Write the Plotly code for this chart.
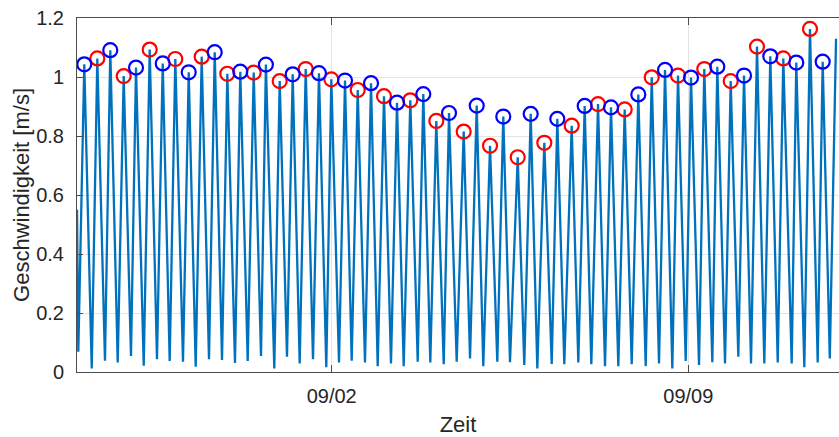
import plotly.graph_objects as go

# ---------------- data ----------------
start_time = "2019-08-28 00:00"
start_speed = 0.55

peak_times = [
    "2019-08-28 03:26", "2019-08-28 09:34", "2019-08-28 15:41", "2019-08-28 22:00",
    "2019-08-29 03:48", "2019-08-29 10:15", "2019-08-29 16:23", "2019-08-29 22:19",
    "2019-08-30 04:38", "2019-08-30 10:45", "2019-08-30 16:53", "2019-08-30 22:49",
    "2019-08-31 04:56", "2019-08-31 11:15", "2019-08-31 17:00", "2019-08-31 23:30",
    "2019-09-01 05:37", "2019-09-01 11:45", "2019-09-01 18:00", "2019-09-01 23:49",
    "2019-09-02 06:16", "2019-09-02 12:15", "2019-09-02 18:31", "2019-09-03 00:38",
    "2019-09-03 06:46", "2019-09-03 13:02", "2019-09-03 19:09", "2019-09-04 01:17",
    "2019-09-04 07:16", "2019-09-04 14:11", "2019-09-04 20:19", "2019-09-05 02:35",
    "2019-09-05 08:50", "2019-09-05 15:38", "2019-09-05 21:45", "2019-09-06 04:10",
    "2019-09-06 10:17", "2019-09-06 17:04", "2019-09-06 23:11", "2019-09-07 05:28",
    "2019-09-07 11:35", "2019-09-07 18:02", "2019-09-08 00:27", "2019-09-08 06:46",
    "2019-09-08 13:02", "2019-09-08 19:09", "2019-09-09 01:17", "2019-09-09 07:32",
    "2019-09-09 13:40", "2019-09-09 19:59", "2019-09-10 02:15", "2019-09-10 08:22",
    "2019-09-10 14:38", "2019-09-10 20:46", "2019-09-11 02:53", "2019-09-11 09:20",
    "2019-09-11 15:19", "2019-09-11 21:36",
]
peak_speed = [
    1.043, 1.063, 1.091, 1.003, 1.032, 1.093, 1.046, 1.061, 1.016, 1.069,
    1.084, 1.011, 1.018, 1.015, 1.042, 0.986, 1.009, 1.027, 1.013, 0.992,
    0.988, 0.956, 0.979, 0.935, 0.913, 0.921, 0.942, 0.851, 0.878, 0.815,
    0.903, 0.767, 0.866, 0.728, 0.875, 0.777, 0.858, 0.835, 0.902, 0.908,
    0.897, 0.890, 0.941, 0.999, 1.024, 1.005, 0.998, 1.027, 1.035, 0.986,
    1.005, 1.103, 1.070, 1.063, 1.049, 1.163, 1.052, 1.130,
]

trough_times = [
    "2019-08-28 00:37", "2019-08-28 06:56", "2019-08-28 13:11", "2019-08-28 19:11",
    "2019-08-29 01:26", "2019-08-29 07:26", "2019-08-29 13:41", "2019-08-29 19:40",
    "2019-08-30 01:56", "2019-08-30 07:55", "2019-08-30 14:11", "2019-08-30 20:19",
    "2019-08-31 02:26", "2019-08-31 08:25", "2019-08-31 14:41", "2019-08-31 20:57",
    "2019-09-01 02:56", "2019-09-01 08:55", "2019-09-01 15:11", "2019-09-01 21:27",
    "2019-09-02 03:26", "2019-09-02 09:25", "2019-09-02 15:41", "2019-09-02 21:40",
    "2019-09-03 03:56", "2019-09-03 09:55", "2019-09-03 16:31", "2019-09-03 22:27",
    "2019-09-04 04:46", "2019-09-04 10:53", "2019-09-04 17:10", "2019-09-04 23:25",
    "2019-09-05 06:01", "2019-09-05 12:00", "2019-09-05 18:44", "2019-09-06 00:52",
    "2019-09-06 07:39", "2019-09-06 13:35", "2019-09-06 20:11", "2019-09-07 02:19",
    "2019-09-07 08:46", "2019-09-07 15:02", "2019-09-07 21:20", "2019-09-08 03:56",
    "2019-09-08 10:12", "2019-09-08 16:28", "2019-09-08 22:47", "2019-09-09 05:03",
    "2019-09-09 11:19", "2019-09-09 17:18", "2019-09-09 23:34", "2019-09-10 05:33",
    "2019-09-10 11:49", "2019-09-10 18:08", "2019-09-11 00:43", "2019-09-11 06:40",
    "2019-09-11 12:58", "2019-09-11 18:40",
]
trough_speed = [
    0.069, 0.012, 0.038, 0.032, 0.054, 0.021, 0.043, 0.037, 0.035, 0.018,
    0.043, 0.041, 0.031, 0.037, 0.054, 0.012, 0.052, 0.029, 0.043, 0.016,
    0.032, 0.038, 0.032, 0.020, 0.029, 0.020, 0.035, 0.032, 0.026, 0.035,
    0.046, 0.020, 0.035, 0.033, 0.024, 0.012, 0.027, 0.026, 0.032, 0.026,
    0.020, 0.020, 0.026, 0.020, 0.029, 0.012, 0.037, 0.024, 0.033, 0.029,
    0.052, 0.029, 0.029, 0.032, 0.029, 0.016, 0.032, 0.046,
]

# number of detected (circled) peaks; the last spike is not circled
n_marked = 57

x_range = ["2019-08-28 00:00", "2019-09-11 23:00"]
x_tick0 = "2019-09-02"
y_ticks = [0, 0.2, 0.4, 0.6, 0.8, 1.0, 1.2]
x_title = "Zeit"
y_title = "Geschwindigkeit [m/s]"

# ---------------- build the series ----------------
line_t = [start_time]
line_v = [start_speed]
for tt, tv, pt, pv in zip(trough_times, trough_speed, peak_times, peak_speed):
    line_t += [tt, pt]
    line_v += [tv, pv]

blue_t = [peak_times[i] for i in range(n_marked) if i % 2 == 0]
blue_v = [peak_speed[i] for i in range(n_marked) if i % 2 == 0]
red_t = [peak_times[i] for i in range(n_marked) if i % 2 == 1]
red_v = [peak_speed[i] for i in range(n_marked) if i % 2 == 1]

fig = go.Figure()
fig.add_trace(go.Scatter(x=line_t, y=line_v, mode="lines",
                         line=dict(color="#0072BD", width=2.3), showlegend=False))
fig.add_trace(go.Scatter(x=red_t, y=red_v, mode="markers", showlegend=False,
                         marker=dict(symbol="circle-open", size=14,
                                     color="#FF0000", line=dict(width=2.2))))
fig.add_trace(go.Scatter(x=blue_t, y=blue_v, mode="markers", showlegend=False,
                         marker=dict(symbol="circle-open", size=14,
                                     color="#0000FF", line=dict(width=2.2))))

axis_col = "#4d4d4d"
txt_col = "#262626"
fig.update_layout(
    width=839, height=437,
    margin=dict(l=77, r=0, t=18, b=65, autoexpand=False),
    paper_bgcolor="white", plot_bgcolor="white",
    font=dict(family="Liberation Sans, Arial, sans-serif", color=txt_col, size=20),
    xaxis=dict(
        type="date", range=x_range, tick0=x_tick0, dtick=7 * 86400000,
        tickformat="%m/%d", ticks="inside", ticklen=7, tickcolor=axis_col,
        showline=True, linecolor=axis_col, linewidth=1, mirror="ticks",
        showgrid=True, gridcolor="#e3e3e3", gridwidth=1, automargin=False,
        tickfont=dict(size=20, color=txt_col), ticklabelstandoff=6,
        title=dict(text=x_title, font=dict(size=22, color=txt_col), standoff=11),
    ),
    yaxis=dict(
        range=[0, 1.2], tickvals=y_ticks, ticks="inside", ticklen=6,
        tickcolor=axis_col, showline=True, linecolor=axis_col, linewidth=1,
        mirror=False, zeroline=False, automargin=False,
        showgrid=True, gridcolor="#e3e3e3", gridwidth=1,
        tickfont=dict(size=20, color=txt_col), ticklabelstandoff=8,
        title=dict(text=y_title, font=dict(size=22, color=txt_col), standoff=0),
    ),
)

fig.write_html("out.html", config={"displayModeBar": False},
               post_script="document.body.style.margin='0';")
